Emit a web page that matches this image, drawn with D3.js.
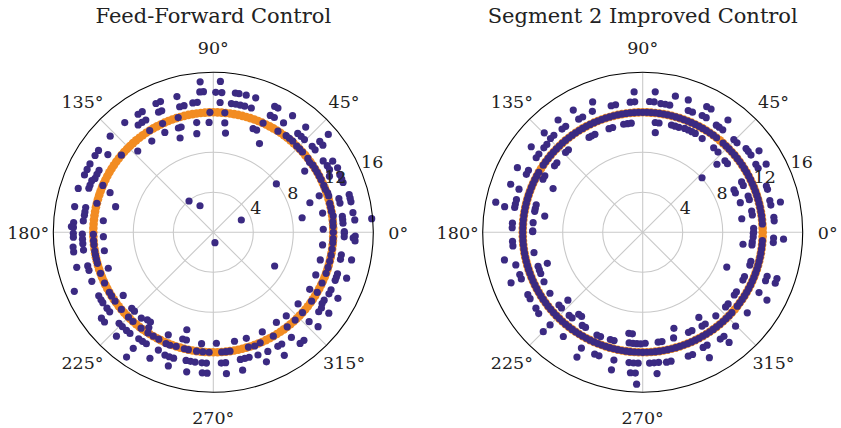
<!DOCTYPE html>
<html><head><meta charset="utf-8">
<script src="https://cdn.jsdelivr.net/npm/d3@7"></script>
<style>body{margin:0;background:#fff}svg{display:block}</style>
</head><body><svg id="c" width="841" height="428"></svg>
<script>
const titles = ["Feed-Forward Control", "Segment 2 Improved Control"];
const angleTicks = [0, 45, 90, 135, 180, 225, 270, 315];
const radialTicks = [4, 8, 12, 16];
const rMax = 16;
const targetR = 12;
const targetTheta = [0,2,4,6,8,10,12,14,16,18,20,22,24,26,28,30,32,34,36,38,40,42,44,46,48,50,52,54,56,58,60,62,64,66,68,70,72,74,76,78,80,82,84,86,88,90,92,94,96,98,100,102,104,106,108,110,112,114,116,118,120,122,124,126,128,130,132,134,136,138,140,142,144,146,148,150,152,154,156,158,160,162,164,166,168,170,172,174,176,178,180,182,184,186,188,190,192,194,196,198,200,202,204,206,208,210,212,214,216,218,220,222,224,226,228,230,232,234,236,238,240,242,244,246,248,250,252,254,256,258,260,262,264,266,268,270,272,274,276,278,280,282,284,286,288,290,292,294,296,298,300,302,304,306,308,310,312,314,316,318,320,322,324,326,328,330,332,334,336,338,340,342,344,346,348,350,352,354,356,358];

// Feed-forward measured positions [theta deg, r]
const ffPoints = [
[87.3,15.1],[86.5,14.0],[89,14.0],[81,14.1],[79.5,14.1],[76.5,14.1],[72.5,14.1],
[82,13.0],[80,13.0],[78,13.0],[76,13.0],[73,13.0],[87,13.0],
[84.5,12.0],[84,11.0],[83,10.0],[62.5,10.0],
[64,14.0],[62.5,14.0],[64,13.0],[62,13.0],[55.8,14.1],[65.5,12.0],[57.3,13.0],
[69,11.1],[67,11.1],[57.4,12.0],[53,12.1],[51,12.1],[49,12.1],
[49.5,13.0],[47.5,13.0],[45.5,13.0],[48.7,14.0],
[41,13.1],[39,13.1],[40.5,14.0],[38.5,14.0],[40.4,15.1],[42,12.0],
[36,11.9],[34,12.0],[32,12.0],[33.8,11.0],[33,13.1],[30.8,13.9],
[30.3,13.2],[28.3,13.2],[27.4,14.0],[24.5,13.9],[22.5,13.9],[21,13.9],
[28,12.0],[25.8,12.9],[19,11.2],[17,10.1],[19,12.1],[17.5,12.1],
[15,13.0],[13,13.0],[15.5,14.1],[14,14.1],[12.5,14.1],
[10,11.1],[9.3,9.0],[7.8,12.1],[7,13.0],[5.5,13.0],[4,13.0],
[8,14.1],[5,14.2],[4.9,15.9],[1.6,11.0],[0.3,13.1],[3,12.0],
[0,12.0],[5,12.0],[10,12.0],[12,12.0],[14,12.0],[21,12.0],[23,12.0],[26,12.0],[30,12.0],[38,12.0],[44,12.0],[46,12.0],
[23.7,3.06],[37.5,7.95],[357.7,14.0],
[279,1.05],[331.2,7.0],[359.6,13.1],[358,13.1],[358.5,14.2],[356.5,14.2],[353.4,11.0],
[357,12.0],[355,12.0],[352,12.0],[349,12.0],[346,12.0],[343,12.0],[340,12.0],[335,12.0],[330,12.0],[325,12.0],[318,12.0],[313,12.0],[308,12.0],[300,12.0],[293,12.0],[287,12.0],
[350,13.0],[348,13.0],[348.7,14.1],[345.5,11.05],
[341.5,13.1],[340,13.1],[338.5,13.1],[341,14.1],[337.4,11.1],
[334,13.1],[332,13.1],[332.1,14.1],[329.4,11.2],
[328.5,13.0],[326.8,13.0],[325,13.2],[323,13.2],[325,14.1],
[319.8,11.1],[317,13.1],[318,14.1],[311.1,11.1],[305,11.0],
[306.6,13.1],[310,14.1],[308,14.1],[301.5,13.1],[299.5,13.1],[300,14.2],
[294.6,13.1],[296.2,11.1],[292.3,14.0],[290,13.06],[287.3,11.1],[290,12.1],
[286,13.0],[284,13.0],[282,13.0],[281,11.1],[278,12.0],[276,12.0],
[282,14.1],[275.4,13.1],[273.5,13.1],[275.3,14.2],[274,12.0],[271.6,11.1],
[265,13.1],[267,13.1],[265.5,14.1],[267.5,14.1],[264,11.2],[268,12.0],
[254.8,10.1],[254,11.1],[256,11.1],[256,12.0],[258,12.0],
[258,13.1],[260,13.1],[262,13.1],[259.2,14.2],[262,12.0],[265,12.0],[252,12.0],
[246.3,11.2],[247,12.1],[249,12.1],[248.5,13.2],[250.5,13.2],[252.5,13.2],[251.4,14.1],
[235.9,11.5],[233,12.0],[237,12.0],[240,12.0],[243,12.0],[235,13.0],[237,13.0],[239,13.0],
[235.4,14.1],[235.2,15.2],[243.3,14.1],[245,13.0],
[233,10.96],[235,10.96],[223,11.15],[225,11.15],[230,11.2],[215,11.0],
[224,13.1],[226,13.1],[228.5,13.1],[230.5,13.1],[227,14.2],[225,12.0],[228,12.0],
[217.5,14.1],[219.5,14.1],[215.5,13.06],[217.5,13.06],
[215,12.0],[220,12.0],[210,12.0],[212,12.0],[205,12.0],
[209,13.1],[211,13.1],[212.5,13.1],[202,13.1],[203,15.1],
[195,13.0],[197,13.0],[194.4,14.1],[198.9,11.1],[200,12.0],[195,12.0],[191,12.0],[193,12.0],
[186,14.1],[188,14.1],[187.8,13.1],[186,12.0],[189,12.0],[189.6,11.05],
[183,13.1],[185,13.1],[180.4,14.0],[182,14.0],[181,12.0],[184,12.0],[182.3,11.0],[180.8,13.1],
[95,15.1],[94,14.1],[95.5,14.1],[97,13.1],[99,13.1],[91.6,12.0],[92.2,11.0],[98.6,11.1],[99.5,10.0],
[105,14.05],[103,13.0],[105,13.0],[107,11.0],[108.5,11.0],[109.4,10.0],[107,12.0],
[112,14.1],[114,14.1],[113,13.2],[114.5,13.2],[115,12.0],[115.9,11.1],[124,11.0],
[120.5,14.0],[122.5,14.0],[121,13.1],[123,13.1],[125,13.1],[128.9,14.1],[122,12.0],
[132.9,11.1],[137,14.1],[144.5,14.1],[147,14.1],[143.6,13.1],[140,12.0],
[151,14.1],[153.5,14.1],[156,14.1],[151.5,13.0],[153.5,13.0],[155.5,13.0],
[157,13.2],[159,13.2],[160.5,13.2],[162,14.2],[159,11.06],[157,12.0],
[169.5,14.1],[169,13.0],[171,13.0],[172.5,13.0],[165.3,10.1],[166,12.0],
[176,14.0],[178,14.0],[175,13.05],[174,11.06],[177.7,14.2],
[127.8,3.96],[116.6,2.97]
];

// Segment 2 improved: points tracking the path
const s2RingR = 12;
const s2RingTheta = [4,6,8,10,12,14,16,18,20,22,24,26,28,30,32,34,36,38,40,42,44,46,48,52,54,56,58,60,62,64,66,68,70,72,74,76,78,80,82,84,86,88,90,92,94,96,98,100,102,104,106,108,110,112,114,116,118,120,122,124,126,128,130,132,134,136,138,140,142,144,146,150,152,154,156,158,160,162,164,166,168,170,172,174,176,178,180,182,184,186,188,190,192,194,196,198,200,202,204,206,208,210,212,214,216,218,220,222,224,226,228,230,232,234,236,238,240,242,244,246,248,250,252,254,256,258,260,262,264,266,268,270,272,274,276,278,280,282,284,286,288,290,292,294,296,298,300,302,304,306,308,310,312,314,316,318,322,324,326,328,330,332,334,336,338,340,342,344,346,348,350,352,354,356];
const s2Points = [
[84.9,14.1],[85,13.1],[87,13.1],[78,13.0],[80,13.0],[82,13.0],[76.5,14.0],[71,14.0],
[67.5,13.0],[69.5,13.0],[61,14.1],[63,14.1],[61,13.1],[63,13.1],[52.8,14.1],
[52,13.0],[54,13.0],[55.5,13.0],[81.5,11.05],[83.5,11.05],[82.8,10.04],
[71,11.1],[73,11.1],[75,11.1],[62,11.2],[64,11.2],[66,11.2],[68,11.2],
[57.6,11.1],[50,11.04],[46.8,11.0],[42.5,10.07],[39,10.9],[41,10.9],[42.6,8.06],
[43.5,13.0],[45.5,13.0],[35.5,13.3],[37.5,13.3],[39,13.3],[35,14.2],
[29,13.2],[31,13.2],[28.9,14.1],[25,11.1],[27,11.1],[23,10.07],[25,10.07],
[19,13.2],[20.5,13.2],[16.9,10.2],[17,11.15],[19,11.15],[12,13.1],[14,13.1],[12.4,14.1],
[9,11.1],[11,11.1],[7.8,10.0],[5,13.2],[6.5,13.2],[0,11.1],[2,11.1],
[357.5,11.06],[359.5,11.06],[353.2,10.1],[355.5,13.1],[357.5,13.1],[357.2,14.1],
[353.4,11.0],[355,11.0],[343,11.2],[345,11.2],[337.5,9.1],[338.5,13.2],[340.5,13.2],
[339,14.2],[341,14.2],[334.5,11.1],[336.5,11.1],[332.6,13.1],[331.4,14.15],
[325.6,11.1],[327.6,11.1],[318,11.15],[320,11.15],[322.4,13.2],[314.7,13.2],
[311.2,11.1],[303.4,10.2],[302.3,11.1],[304.3,11.1],[294.6,11.0],[296.6,11.0],
[306,13.2],[308,13.2],[308.1,14.0],[297.7,13.0],[299.7,13.0],[290.2,13.2],[292.2,13.2],
[298,14.2],[288,10.1],[286.3,11.0],[278,11.1],[280,11.1],[271.3,11.1],
[280.4,13.2],[282.4,13.2],[273,13.1],[275,13.1],[277,13.1],[275.8,14.2],
[262.2,10.2],[264.2,10.2],[263,11.15],[265,11.15],[267,11.15],[269,11.15],
[264,13.1],[266,13.1],[268,13.1],[265,14.1],[267,14.1],[267.7,15.2],
[253.2,11.2],[255.2,11.2],[246,11.25],[248,11.25],[257.3,13.1],[257.2,14.1],
[248.5,13.1],[250.5,13.1],[242.1,13.1],[242.2,14.1],[237,11.1],[239,11.1],
[232,10.4],[234,10.4],[228.5,11.1],[230.5,11.1],[222.2,10.1],[221,11.1],[223,11.1],
[232.7,13.1],[225,13.1],[225,14.06],[215.4,13.1],[218,13.2],[208.5,13.07],[210.5,13.07],
[213.3,11.1],[206.6,11.04],[198,11.0],[200,11.0],[202,11.0],[199,13.0],[201,13.0],
[201,14.1],[194.4,13.1],[191.3,14.1],[198,10.03],[190.6,11.06],[184,13.05],[186,13.05],[179.7,11.0],
[93.5,14.06],[93.5,13.07],[95.5,13.07],[96,10.97],[98,10.97],[100,10.97],
[102,13.04],[104,13.04],[111,13.97],[112.6,13.1],[106,10.9],[108,10.9],
[116,10.9],[118,10.9],[119.5,10.9],[119.6,14.06],[117.5,13.0],[119.5,13.0],
[126,13.1],[128,13.1],[127,14.06],[134.7,14.0],[132.5,13.15],[134.5,13.15],
[132,11.1],[134,11.1],[137.5,13.0],[139.5,13.0],[142.5,14.05],[143,13.0],[145,13.0],
[141,11.04],[143,11.04],[154,9.97],[150,11.3],[152,11.3],[151.5,13.0],[153.5,13.0],
[152.7,14.1],[160,14.05],[160.8,13.1],[165.5,13.04],[167.5,13.04],[169,13.04],
[168.4,15.0],[169.5,14.04],[165.5,11.0],[167.5,11.0],[169,11.0],[170.6,9.93],
[176,13.06],[178,13.06],[179.3,11.0],[175,11.0]
];

const colors = { target: "#f28c22", actual: "#3b2a82", grid: "#c9c9c9", text: "#222" };
const FONT = "'DejaVu Serif', serif";

const svg = d3.select("#c");
const R = 160;
const rScale = d3.scaleLinear().domain([0, rMax]).range([0, R]);
const aScale = d3.scaleLinear().domain([0, 360]).range([0, 2 * Math.PI]);
const px = (t, r) => rScale(r) * Math.cos(aScale(t));
const py = (t, r) => -rScale(r) * Math.sin(aScale(t));

const panels = [
  { cx: 213.3, cy: 232.3, title: titles[0], ring: [], pts: ffPoints },
  { cx: 642.7, cy: 232.3, title: titles[1], ring: s2RingTheta.map(t => [t, s2RingR]), pts: s2Points }
];

panels.forEach(p => {
  svg.append("text").attr("x", p.cx).attr("y", 23).attr("text-anchor", "middle")
    .attr("font-family", FONT).attr("font-size", 21).attr("fill", colors.text).text(p.title);
  const g = svg.append("g").attr("transform", `translate(${p.cx},${p.cy})`);
  g.selectAll("circle.grid").data(radialTicks.filter(v => v < rMax)).join("circle")
    .attr("r", d => rScale(d)).attr("fill", "none").attr("stroke", colors.grid).attr("stroke-width", 1.1);
  g.selectAll("line.spoke").data(angleTicks).join("line")
    .attr("x1", 0).attr("y1", 0).attr("x2", d => px(d, rMax)).attr("y2", d => py(d, rMax))
    .attr("stroke", colors.grid).attr("stroke-width", 1.1);
  g.append("g").selectAll("circle").data(targetTheta).join("circle")
    .attr("cx", d => px(d, targetR)).attr("cy", d => py(d, targetR)).attr("r", 4.3).attr("fill", colors.target);
  g.append("g").selectAll("circle").data(p.ring.concat(p.pts)).join("circle")
    .attr("cx", d => px(d[0], d[1])).attr("cy", d => py(d[0], d[1])).attr("r", 3.6).attr("fill", colors.actual);
  g.append("circle").attr("r", rScale(rMax)).attr("fill", "none").attr("stroke", "#000").attr("stroke-width", 1.1);
  g.selectAll("text.ang").data(angleTicks).join("text")
    .attr("x", d => Math.cos(aScale(d)) * 185).attr("y", d => -Math.sin(aScale(d)) * 185)
    .attr("dy", "0.36em").attr("text-anchor", "middle").attr("font-family", FONT).attr("font-size", 17.5)
    .attr("fill", colors.text).text(d => d + "°");
  g.selectAll("text.rad").data(radialTicks).join("text")
    .attr("x", d => px(22.5, d)).attr("y", d => py(22.5, d) - 3)
    .attr("text-anchor", "start").attr("font-family", FONT).attr("font-size", 17.5)
    .attr("fill", colors.text).text(d => d);
});
</script></body></html>
